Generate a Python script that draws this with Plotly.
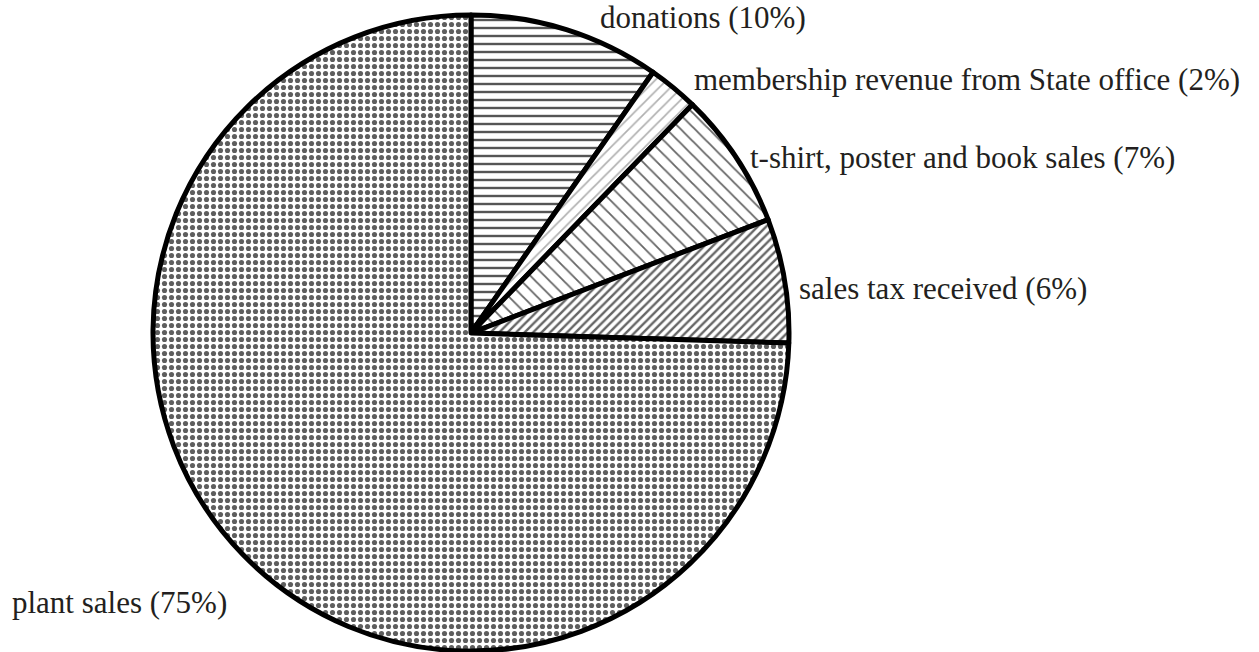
import plotly.graph_objects as go

categories = ["donations", "membership revenue from State office", "t-shirt, poster and book sales",
              "sales tax received", "plant sales"]
label_pct = [10, 2, 7, 6, 75]
# slice sizes as drawn in the picture (percent of the circle)
drawn_share = [9.7, 2.55, 6.95, 6.3, 74.5]

patterns = ["-", "/", "\\", "/", "."]
pat_colors = ["#555555", "#b0b0b0", "#666666", "#666666", "#5e5e5e"]
pat_sizes = [8, 8, 10, 6, 7]
pat_solid = [0.3, 0.2, 0.18, 0.4, 0.42]

W, H = 1259, 652
cx, cy, r = 471, 333, 318

fig = go.Figure(go.Pie(
    labels=categories, values=drawn_share, sort=False, direction="clockwise", rotation=0,
    textinfo="none", hoverinfo="label",
    marker=dict(colors=["white"] * 5, line=dict(color="black", width=5),
                pattern=dict(shape=patterns, fgcolor=pat_colors, bgcolor=["white"] * 5,
                             size=pat_sizes, solidity=pat_solid, fillmode="replace")),
    domain=dict(x=[(cx - r) / W, (cx + r) / W], y=[(H - cy - r) / H, (H - cy + r) / H]),
    showlegend=False,
))

label_pos = [(598, 18), (692, 80), (748, 157), (797, 288), (10, 602)]
for cat, v, (px, py) in zip(categories, label_pct, label_pos):
    fig.add_annotation(text=f"{cat} ({v}%)", x=px / W, y=1 - py / H, xref="paper", yref="paper",
                       xanchor="left", yanchor="middle", showarrow=False,
                       font=dict(family="'Liberation Serif', 'DejaVu Serif', serif", size=31, color="#231f20"))

fig.update_layout(width=W, height=H, margin=dict(l=0, r=0, t=0, b=0),
                  paper_bgcolor="white", plot_bgcolor="white",
                  font=dict(family="'Liberation Serif', serif"))
fig.write_html("out.html")
